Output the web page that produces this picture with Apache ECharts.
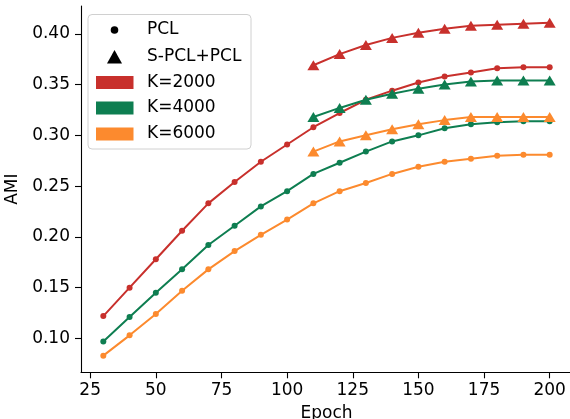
<!DOCTYPE html>
<html><head><meta charset="utf-8">
<script src="https://cdn.jsdelivr.net/npm/echarts@6/dist/echarts.min.js"></script>
<style>html,body{margin:0;padding:0;background:#fff}#c{width:570px;height:419px}</style>
</head><body><div id="c"></div>
<script>
const epochsPCL = [30,40,50,60,70,80,90,100,110,120,130,140,150,160,170,180,190,200];
const epochsSPCL = [110,120,130,140,150,160,170,180,190,200];
const pclK2000 = [0.122,0.150,0.178,0.206,0.233,0.254,0.274,0.291,0.308,0.322,0.335,0.344,0.352,0.358,0.362,0.366,0.367,0.367];
const spclK2000 = [0.369,0.380,0.389,0.396,0.401,0.405,0.408,0.409,0.410,0.411];
const pclK4000 = [0.097,0.121,0.145,0.168,0.192,0.211,0.230,0.245,0.262,0.273,0.284,0.294,0.300,0.307,0.311,0.313,0.314,0.314];
const spclK4000 = [0.318,0.327,0.335,0.341,0.346,0.350,0.353,0.354,0.354,0.354];
const pclK6000 = [0.083,0.103,0.124,0.147,0.168,0.186,0.202,0.217,0.233,0.245,0.253,0.262,0.269,0.274,0.277,0.280,0.281,0.281];
const spclK6000 = [0.284,0.294,0.300,0.306,0.311,0.315,0.318,0.318,0.318,0.318];
const kLabels = ['K=2000','K=4000','K=6000'];
const methodLabels = ['PCL','S-PCL+PCL'];
const xTicks = [25,50,75,100,125,150,175,200];
const yTicks = [0.10,0.15,0.20,0.25,0.30,0.35,0.40];
const xTitle = 'Epoch';
const yTitle = 'AMI';

const colors = ['#C8302C','#0E7E51','#FC8A2E'];
const FONT = 'DejaVu Sans';
const FS = 17;
const pclSets = [pclK2000, pclK4000, pclK6000];
const spclSets = [spclK2000, spclK4000, spclK6000];

const series = [];
pclSets.forEach((vals, i) => {
  series.push({
    type: 'line', name: methodLabels[0] + ' ' + kLabels[i],
    data: epochsPCL.map((e, j) => [e, vals[j]]),
    symbol: 'circle', symbolSize: 6, showAllSymbol: true,
    lineStyle: { color: colors[i], width: 2 },
    itemStyle: { color: colors[i] }, z: 2, animation: false
  });
});
spclSets.forEach((vals, i) => {
  series.push({
    type: 'line', name: methodLabels[1] + ' ' + kLabels[i],
    data: epochsSPCL.map((e, j) => [e, vals[j]]),
    symbol: 'triangle', symbolSize: [12, 10], showAllSymbol: true,
    lineStyle: { color: colors[i], width: 2 },
    itemStyle: { color: colors[i] }, z: 3, animation: false
  });
});

// legend via graphic
const lgX = 88, lgY = 14.5, rowY = [30, 57, 82.5, 108, 134];
const graphic = [
  { type: 'rect', shape: { x: lgX, y: lgY, width: 163, height: 134.5, r: 4 },
    style: { fill: 'rgba(255,255,255,0.85)', stroke: '#d0d0d0', lineWidth: 1 }, z: 100 },
  { type: 'circle', shape: { cx: 114.5, cy: rowY[0], r: 3.8 }, style: { fill: '#000' }, z: 101 },
  { type: 'polygon', shape: { points: [[114.5, rowY[1] - 7], [107, rowY[1] + 6.5], [122, rowY[1] + 6.5]] }, style: { fill: '#000' }, z: 101 }
];
methodLabels.forEach((t, i) => {
  graphic.push({ type: 'text', x: 147, y: rowY[i], z: 101,
    style: { text: t, font: FS + 'px "' + FONT + '"', fill: '#000', verticalAlign: 'middle', textAlign: 'left' } });
});
kLabels.forEach((t, i) => {
  graphic.push({ type: 'rect', shape: { x: 96, y: rowY[i + 2] - 6.5, width: 37.5, height: 13 }, style: { fill: colors[i] }, z: 101 });
  graphic.push({ type: 'text', x: 147, y: rowY[i + 2], z: 101,
    style: { text: t, font: FS + 'px "' + FONT + '"', fill: '#000', verticalAlign: 'middle', textAlign: 'left' } });
});

const axisCommon = {
  axisLine: { show: true, lineStyle: { color: '#000', width: 1.1 } },
  axisTick: { show: true, length: 6, lineStyle: { color: '#000', width: 1.1 } },
  splitLine: { show: false },
  nameTextStyle: { fontFamily: FONT, fontSize: FS, color: '#000' }
};

const chart = echarts.init(document.getElementById('c'), null, { renderer: 'canvas' });
chart.setOption({
  animation: false,
  backgroundColor: '#fff',
  grid: { left: 81, top: 6, right: -2, bottom: 46.7, containLabel: false, outerBoundsMode: 'none' },
  xAxis: Object.assign({}, axisCommon, {
    type: 'value', min: 21.5, max: 208.5,
    name: xTitle, nameLocation: 'middle', nameGap: 33,
    axisTick: Object.assign({}, axisCommon.axisTick, { customValues: xTicks }),
    axisLabel: { customValues: xTicks, fontFamily: FONT, fontSize: FS, color: '#000', margin: 10 }
  }),
  yAxis: Object.assign({}, axisCommon, {
    type: 'value', min: 0.0666, max: 0.4274,
    name: yTitle, nameLocation: 'middle', nameGap: 59, nameRotate: 90,
    axisTick: Object.assign({}, axisCommon.axisTick, { customValues: yTicks }),
    axisLabel: { customValues: yTicks, fontFamily: FONT, fontSize: FS, color: '#000', margin: 11,
      formatter: v => v.toFixed(2) }
  }),
  graphic: graphic,
  series: series
});
</script></body></html>
